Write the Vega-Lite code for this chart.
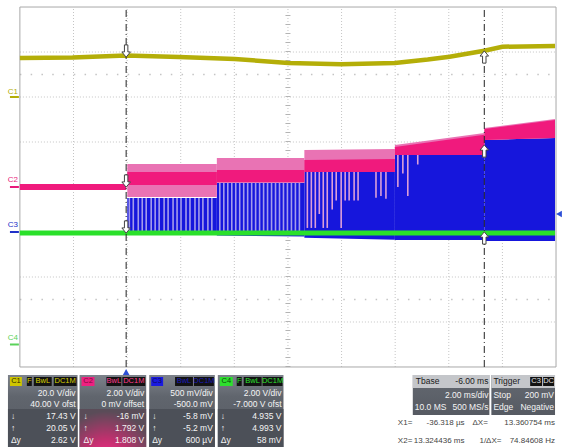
{
  "$schema": "https://vega.github.io/schema/vega-lite/v6.json",
  "width": 565,
  "height": 447,
  "autosize": {"type": "fit", "contains": "padding"},
  "padding": 0,
  "background": "#ffffff",
  "config": {"view": {"stroke": null}},
  "datasets": {
    "frame": [{"t": -4, "t2": 16, "v": -4, "v2": 4}],
    "vgrid": [
      {"t": -2, "v": -4, "v2": 4}, {"t": 0, "v": -4, "v2": 4}, {"t": 2, "v": -4, "v2": 4},
      {"t": 4, "v": -4, "v2": 4}, {"t": 6, "v": -4, "v2": 4}, {"t": 8, "v": -4, "v2": 4},
      {"t": 10, "v": -4, "v2": 4}, {"t": 12, "v": -4, "v2": 4}, {"t": 14, "v": -4, "v2": 4}
    ],
    "hgrid": [
      {"t": -4, "t2": 16, "v": -3}, {"t": -4, "t2": 16, "v": -2}, {"t": -4, "t2": 16, "v": -1},
      {"t": -4, "t2": 16, "v": 0}, {"t": -4, "t2": 16, "v": 1}, {"t": -4, "t2": 16, "v": 2},
      {"t": -4, "t2": 16, "v": 3}
    ],
    "dotrows": [{"t": -4, "t2": 16, "v": 2.5}, {"t": -4, "t2": 16, "v": -2.5}],
    "vticks": [{"t": 6, "v": -4, "v2": 4}],
    "hticks": [{"t": -4, "t2": 16, "v": 0}],
    "bands": [
      {"kind": "blue", "seg": "A", "t": 0.007, "v": -0.244, "v2": -1.05},
      {"kind": "blue", "seg": "A", "t": 3.347, "v": -0.244, "v2": -1.05},
      {"kind": "blue", "seg": "B", "t": 3.347, "v": 0.089, "v2": -1.08},
      {"kind": "blue", "seg": "B", "t": 6.612, "v": 0.089, "v2": -1.1},
      {"kind": "blue", "seg": "C", "t": 6.612, "v": 0.333, "v2": -1.13},
      {"kind": "blue", "seg": "C", "t": 9.989, "v": 0.333, "v2": -1.17},
      {"kind": "blue", "seg": "D", "t": 9.989, "v": 0.711, "v2": -1.18},
      {"kind": "blue", "seg": "D", "t": 13.328, "v": 0.711, "v2": -1.18},
      {"kind": "blue", "seg": "E", "t": 13.328, "v": 1.044, "v2": -1.2},
      {"kind": "blue", "seg": "E", "t": 15.963, "v": 1.089, "v2": -1.2},
      {"kind": "pinklight", "seg": "A", "t": 0.007, "v": 0.511, "v2": -0.222},
      {"kind": "pinklight", "seg": "A", "t": 3.347, "v": 0.511, "v2": -0.222},
      {"kind": "pinklight", "seg": "B", "t": 3.347, "v": 0.644, "v2": 0.089},
      {"kind": "pinklight", "seg": "B", "t": 6.612, "v": 0.644, "v2": 0.089},
      {"kind": "pinklight", "seg": "C", "t": 6.612, "v": 0.822, "v2": 0.333},
      {"kind": "pinklight", "seg": "C", "t": 9.989, "v": 0.844, "v2": 0.333},
      {"kind": "pinklight", "seg": "D", "t": 9.989, "v": 0.933, "v2": 0.711},
      {"kind": "pinklight", "seg": "D", "t": 13.328, "v": 1.2, "v2": 0.711},
      {"kind": "pinklight", "seg": "E", "t": 13.328, "v": 1.311, "v2": 1.044},
      {"kind": "pinklight", "seg": "E", "t": 15.963, "v": 1.511, "v2": 1.089},
      {"kind": "pink", "seg": "A", "t": 0.007, "v": 0.333, "v2": 0.044},
      {"kind": "pink", "seg": "A", "t": 3.347, "v": 0.333, "v2": 0.044},
      {"kind": "pink", "seg": "B", "t": 3.347, "v": 0.378, "v2": 0.111},
      {"kind": "pink", "seg": "B", "t": 6.612, "v": 0.378, "v2": 0.111},
      {"kind": "pink", "seg": "C", "t": 6.612, "v": 0.6, "v2": 0.333},
      {"kind": "pink", "seg": "C", "t": 9.989, "v": 0.62, "v2": 0.333},
      {"kind": "pink", "seg": "D", "t": 9.989, "v": 0.89, "v2": 0.711},
      {"kind": "pink", "seg": "D", "t": 13.328, "v": 1.16, "v2": 0.711},
      {"kind": "pink", "seg": "E", "t": 13.328, "v": 1.29, "v2": 1.044},
      {"kind": "pink", "seg": "E", "t": 15.963, "v": 1.49, "v2": 1.089}
    ],
    "pulses": [
      {"t": 0.082, "v": -1, "v2": -0.244, "kind": "gap"}, {"t": 0.23, "v": -1, "v2": -0.244, "kind": "gap"},
      {"t": 0.416, "v": -1, "v2": -0.244, "kind": "gap"}, {"t": 0.564, "v": -1, "v2": -0.244, "kind": "gap"},
      {"t": 0.712, "v": -1, "v2": -0.244, "kind": "gap"}, {"t": 0.898, "v": -1, "v2": -0.244, "kind": "gap"},
      {"t": 1.046, "v": -1, "v2": -0.244, "kind": "gap"}, {"t": 1.195, "v": -1, "v2": -0.244, "kind": "gap"},
      {"t": 1.38, "v": -1, "v2": -0.244, "kind": "gap"}, {"t": 1.529, "v": -1, "v2": -0.244, "kind": "gap"},
      {"t": 1.714, "v": -1, "v2": -0.244, "kind": "gap"}, {"t": 1.863, "v": -1, "v2": -0.244, "kind": "gap"},
      {"t": 2.011, "v": -1, "v2": -0.244, "kind": "gap"}, {"t": 2.197, "v": -1, "v2": -0.244, "kind": "gap"},
      {"t": 2.345, "v": -1, "v2": -0.244, "kind": "gap"}, {"t": 2.531, "v": -1, "v2": -0.244, "kind": "gap"},
      {"t": 2.679, "v": -1, "v2": -0.244, "kind": "gap"}, {"t": 2.827, "v": -1, "v2": -0.244, "kind": "gap"},
      {"t": 3.013, "v": -1, "v2": -0.244, "kind": "gap"}, {"t": 3.161, "v": -1, "v2": -0.244, "kind": "gap"},
      {"t": 3.458, "v": -1, "v2": 0.089, "kind": "gap"}, {"t": 3.607, "v": -1, "v2": 0.089, "kind": "gap"},
      {"t": 3.755, "v": -1, "v2": 0.089, "kind": "gap"}, {"t": 3.904, "v": -1, "v2": 0.089, "kind": "gap"},
      {"t": 4.052, "v": -1, "v2": 0.089, "kind": "gap"}, {"t": 4.2, "v": -1, "v2": 0.089, "kind": "gap"},
      {"t": 4.349, "v": -1, "v2": 0.089, "kind": "gap"}, {"t": 4.497, "v": -1, "v2": 0.089, "kind": "gap"},
      {"t": 4.646, "v": -1, "v2": 0.089, "kind": "gap"}, {"t": 4.794, "v": -1, "v2": 0.089, "kind": "gap"},
      {"t": 4.942, "v": -1, "v2": 0.089, "kind": "gap"}, {"t": 5.091, "v": -1, "v2": 0.089, "kind": "gap"},
      {"t": 5.239, "v": -1, "v2": 0.089, "kind": "gap"}, {"t": 5.388, "v": -1, "v2": 0.089, "kind": "gap"},
      {"t": 5.536, "v": -1, "v2": 0.089, "kind": "gap"}, {"t": 5.685, "v": -1, "v2": 0.089, "kind": "gap"},
      {"t": 5.833, "v": -1, "v2": 0.089, "kind": "gap"}, {"t": 5.981, "v": -1, "v2": 0.089, "kind": "gap"},
      {"t": 6.13, "v": -1, "v2": 0.089, "kind": "gap"}, {"t": 6.278, "v": -1, "v2": 0.089, "kind": "gap"},
      {"t": 6.427, "v": -1, "v2": 0.089, "kind": "gap"},
      {"t": 6.724, "v": -0.91, "v2": 0.333, "kind": "spike"}, {"t": 6.872, "v": -0.91, "v2": 0.333, "kind": "spike"},
      {"t": 7.02, "v": -0.91, "v2": 0.333, "kind": "spike"}, {"t": 7.169, "v": -0.6, "v2": 0.333, "kind": "spike"},
      {"t": 7.317, "v": -0.91, "v2": 0.333, "kind": "spike"}, {"t": 7.466, "v": -0.91, "v2": 0.333, "kind": "spike"},
      {"t": 7.651, "v": -0.5, "v2": 0.333, "kind": "spike"}, {"t": 7.8, "v": -0.3, "v2": 0.333, "kind": "spike"},
      {"t": 7.985, "v": -0.91, "v2": 0.333, "kind": "spike"}, {"t": 8.134, "v": -0.3, "v2": 0.333, "kind": "spike"},
      {"t": 8.282, "v": -0.3, "v2": 0.333, "kind": "spike"}, {"t": 8.468, "v": -0.3, "v2": 0.333, "kind": "spike"},
      {"t": 8.616, "v": -0.3, "v2": 0.333, "kind": "spike"}, {"t": 9.284, "v": -0.24, "v2": 0.333, "kind": "spike"},
      {"t": 9.469, "v": -0.2, "v2": 0.333, "kind": "spike"}, {"t": 9.655, "v": -0.26, "v2": 0.333, "kind": "spike"},
      {"t": 10.1, "v": 0.0, "v2": 0.711, "kind": "spike"}, {"t": 10.286, "v": 0.3, "v2": 0.711, "kind": "spike"},
      {"t": 10.471, "v": -0.2, "v2": 0.711, "kind": "spike"}, {"t": 10.842, "v": 0.5, "v2": 0.711, "kind": "spike"}
    ],
    "c2pre": [{"t": -4, "v": 0.0}, {"t": -0.036, "v": 0.0}],
    "c1": [
      {"t": -4, "v": 2.867}, {"t": -2.033, "v": 2.878}, {"t": -0.036, "v": 2.922},
      {"t": 1.937, "v": 2.889}, {"t": 4.015, "v": 2.844}, {"t": 6.019, "v": 2.756},
      {"t": 7.985, "v": 2.73}, {"t": 9.989, "v": 2.756}, {"t": 11.213, "v": 2.833},
      {"t": 12.03, "v": 2.896}, {"t": 13.324, "v": 3.029}, {"t": 13.996, "v": 3.118},
      {"t": 15.963, "v": 3.133}
    ],
    "c4": [{"t": -4, "v": -1.02}, {"t": 15.963, "v": -1.02}],
    "cursors": [{"t": -0.036, "v": -4, "v2": 4}, {"t": 13.324, "v": -4, "v2": 4}],
    "arrows": [
      {"t": -0.036, "v": 3.022, "dir": "down"}, {"t": -0.036, "v": 0.133, "dir": "down"},
      {"t": -0.036, "v": -0.889, "dir": "down"}, {"t": 13.324, "v": 2.889, "dir": "up"},
      {"t": 13.324, "v": 0.8, "dir": "up"}, {"t": 13.324, "v": -1.133, "dir": "up"}
    ],
    "markers": [{"t": -0.036, "v": -4.111, "kind": "trigger time"}, {"t": 16.111, "v": -0.6, "kind": "trigger level"}],
    "chan": [
      {"ch": "C1", "t": -4.26, "v": 2.111, "u": -4.371, "u2": -4.037, "lv": 2},
      {"ch": "C2", "t": -4.26, "v": 0.156, "u": -4.371, "u2": -4.037, "lv": 0},
      {"ch": "C3", "t": -4.26, "v": -0.844, "u": -4.371, "u2": -4.037, "lv": -1},
      {"ch": "C4", "t": -4.26, "v": -3.356, "u": -4.371, "u2": -4.037, "lv": -3.5}
    ],
    "panels": [
      {"t": -4.445, "t2": -1.848, "v": -4.178, "v2": -5.778},
      {"t": -1.774, "t2": 0.712, "v": -4.178, "v2": -5.778},
      {"t": 0.824, "t2": 3.273, "v": -4.178, "v2": -5.778},
      {"t": 3.384, "t2": 5.833, "v": -4.178, "v2": -5.778},
      {"t": 10.657, "t2": 13.514, "v": -4.178, "v2": -5.067},
      {"t": 13.588, "t2": 15.963, "v": -4.178, "v2": -5.067}
    ],
    "boxes": [
      {"part": "lower", "t": -4.445, "t2": -1.848, "v": -4.933, "v2": -5.778},
      {"part": "lower", "t": 0.824, "t2": 3.273, "v": -4.933, "v2": -5.778},
      {"part": "lower", "t": 3.384, "t2": 5.833, "v": -4.933, "v2": -5.778},
      {"part": "header", "t": 10.657, "t2": 13.514, "v": -4.178, "v2": -4.467},
      {"part": "header", "t": 13.588, "t2": 15.963, "v": -4.178, "v2": -4.467},
      {"part": "C1 tag", "t": -4.371, "t2": -3.926, "v": -4.222, "v2": -4.422},
      {"part": "flag", "t": -3.74, "t2": -3.555, "v": -4.222, "v2": -4.422},
      {"part": "flag", "t": -3.481, "t2": -2.813, "v": -4.222, "v2": -4.422},
      {"part": "flag", "t": -2.738, "t2": -1.885, "v": -4.222, "v2": -4.422},
      {"part": "C2 tag", "t": -1.7, "t2": -1.217, "v": -4.222, "v2": -4.422},
      {"part": "flag", "t": -0.772, "t2": -0.215, "v": -4.222, "v2": -4.422},
      {"part": "flag", "t": -0.178, "t2": 0.675, "v": -4.222, "v2": -4.422},
      {"part": "C3 tag", "t": 0.898, "t2": 1.343, "v": -4.222, "v2": -4.422},
      {"part": "flag", "t": 1.788, "t2": 2.456, "v": -4.222, "v2": -4.422},
      {"part": "flag", "t": 2.494, "t2": 3.236, "v": -4.222, "v2": -4.422},
      {"part": "C4 tag", "t": 3.458, "t2": 3.941, "v": -4.222, "v2": -4.422},
      {"part": "flag", "t": 4.089, "t2": 4.275, "v": -4.222, "v2": -4.422},
      {"part": "flag", "t": 4.349, "t2": 5.017, "v": -4.222, "v2": -4.422},
      {"part": "flag", "t": 5.054, "t2": 5.796, "v": -4.222, "v2": -4.422},
      {"part": "flag", "t": 15.035, "t2": 15.48, "v": -4.222, "v2": -4.422},
      {"part": "flag", "t": 15.518, "t2": 15.926, "v": -4.222, "v2": -4.422}
    ],
    "glow": [{"t": -1.774, "t2": 0.712, "v": -4.933, "v2": -5.778}],
    "texts": [
      {"t": -4.148, "v": -4.322, "text": "C1", "col": "tag", "part": "C1 tag"},
      {"t": -3.647, "v": -4.322, "text": "F", "col": "tag", "part": "C1 flag"},
      {"t": -3.147, "v": -4.322, "text": "BwL", "col": "tag", "part": "C1 flag"},
      {"t": -2.311, "v": -4.322, "text": "DC1M", "col": "tag", "part": "C1 flag"},
      {"t": -1.458, "v": -4.322, "text": "C2", "col": "tag", "part": "C2 tag"},
      {"t": -0.493, "v": -4.322, "text": "BwL", "col": "tag", "part": "C2 flag"},
      {"t": 0.248, "v": -4.322, "text": "DC1M", "col": "tag", "part": "C2 flag"},
      {"t": 1.12, "v": -4.322, "text": "C3", "col": "tag", "part": "C3 tag"},
      {"t": 2.122, "v": -4.322, "text": "BwL", "col": "tag", "part": "C3 flag"},
      {"t": 2.865, "v": -4.322, "text": "DC1M", "col": "tag", "part": "C3 flag"},
      {"t": 3.7, "v": -4.322, "text": "C4", "col": "tag", "part": "C4 tag"},
      {"t": 4.182, "v": -4.322, "text": "F", "col": "tag", "part": "C4 flag"},
      {"t": 4.683, "v": -4.322, "text": "BwL", "col": "tag", "part": "C4 flag"},
      {"t": 5.425, "v": -4.322, "text": "DC1M", "col": "tag", "part": "C4 flag"},
      {"t": 15.257, "v": -4.322, "text": "C3", "col": "tag", "part": "trig flag"},
      {"t": 15.722, "v": -4.322, "text": "DC", "col": "tag", "part": "trig flag"},

      {"t": -1.922, "v": -4.578, "text": "20.0 V/div", "col": "value", "part": "reading"},
      {"t": -1.922, "v": -4.822, "text": "40.00 V ofst", "col": "value", "part": "reading"},
      {"t": -1.922, "v": -5.089, "text": "17.43 V", "col": "value", "part": "reading"},
      {"t": -1.922, "v": -5.356, "text": "20.05 V", "col": "value", "part": "reading"},
      {"t": -1.922, "v": -5.622, "text": "2.62 V", "col": "value", "part": "reading"},
      {"t": 0.638, "v": -4.578, "text": "2.00 V/div", "col": "value", "part": "reading"},
      {"t": 0.638, "v": -4.822, "text": "0 mV offset", "col": "value", "part": "reading"},
      {"t": 0.638, "v": -5.089, "text": "-16 mV", "col": "value", "part": "reading"},
      {"t": 0.638, "v": -5.356, "text": "1.792 V", "col": "value", "part": "reading"},
      {"t": 0.638, "v": -5.622, "text": "1.808 V", "col": "value", "part": "reading"},
      {"t": 3.198, "v": -4.578, "text": "500 mV/div", "col": "value", "part": "reading"},
      {"t": 3.198, "v": -4.822, "text": "-500.0 mV", "col": "value", "part": "reading"},
      {"t": 3.198, "v": -5.089, "text": "-5.8 mV", "col": "value", "part": "reading"},
      {"t": 3.198, "v": -5.356, "text": "-5.2 mV", "col": "value", "part": "reading"},
      {"t": 3.198, "v": -5.622, "text": "600 µV", "col": "value", "part": "reading"},
      {"t": 5.759, "v": -4.578, "text": "2.00 V/div", "col": "value", "part": "reading"},
      {"t": 5.759, "v": -4.822, "text": "-7.000 V ofst", "col": "value", "part": "reading"},
      {"t": 5.759, "v": -5.089, "text": "4.935 V", "col": "value", "part": "reading"},
      {"t": 5.759, "v": -5.356, "text": "4.993 V", "col": "value", "part": "reading"},
      {"t": 5.759, "v": -5.622, "text": "58 mV", "col": "value", "part": "reading"},

      {"t": -4.334, "v": -5.089, "text": "↓", "col": "label", "part": "reading"},
      {"t": -4.334, "v": -5.356, "text": "↑", "col": "label", "part": "reading"},
      {"t": -4.334, "v": -5.622, "text": "Δy", "col": "label", "part": "reading"},
      {"t": -1.625, "v": -5.089, "text": "↓", "col": "label", "part": "reading"},
      {"t": -1.625, "v": -5.356, "text": "↑", "col": "label", "part": "reading"},
      {"t": -1.625, "v": -5.622, "text": "Δy", "col": "label", "part": "reading"},
      {"t": 0.935, "v": -5.089, "text": "↓", "col": "label", "part": "reading"},
      {"t": 0.935, "v": -5.356, "text": "↑", "col": "label", "part": "reading"},
      {"t": 0.935, "v": -5.622, "text": "Δy", "col": "label", "part": "reading"},
      {"t": 3.495, "v": -5.089, "text": "↓", "col": "label", "part": "reading"},
      {"t": 3.495, "v": -5.356, "text": "↑", "col": "label", "part": "reading"},
      {"t": 3.495, "v": -5.622, "text": "Δy", "col": "label", "part": "reading"},

      {"t": 10.768, "v": -4.322, "text": "Tbase", "col": "label", "part": "header"},
      {"t": 13.477, "v": -4.322, "text": "-6.00 ms", "col": "value", "part": "header"},
      {"t": 13.477, "v": -4.622, "text": "2.00 ms/div", "col": "value", "part": "reading"},
      {"t": 10.731, "v": -4.889, "text": "10.0 MS", "col": "label", "part": "reading"},
      {"t": 13.477, "v": -4.889, "text": "500 MS/s", "col": "value", "part": "reading"},
      {"t": 13.663, "v": -4.322, "text": "Trigger", "col": "label", "part": "header"},
      {"t": 13.663, "v": -4.622, "text": "Stop", "col": "label", "part": "reading"},
      {"t": 15.926, "v": -4.622, "text": "200 mV", "col": "value", "part": "reading"},
      {"t": 13.663, "v": -4.889, "text": "Edge", "col": "label", "part": "reading"},
      {"t": 15.926, "v": -4.889, "text": "Negative", "col": "value", "part": "reading"},

      {"t": 10.1, "v": -5.244, "text": "X1=", "col": "label", "part": "cursor"},
      {"t": 12.586, "v": -5.244, "text": "-36.318 µs", "col": "value", "part": "cursor"},
      {"t": 12.883, "v": -5.244, "text": "ΔX=", "col": "label", "part": "cursor"},
      {"t": 15.963, "v": -5.244, "text": "13.360754 ms", "col": "value", "part": "cursor"},
      {"t": 10.1, "v": -5.644, "text": "X2=", "col": "label", "part": "cursor"},
      {"t": 12.586, "v": -5.644, "text": "13.324436 ms", "col": "value", "part": "cursor"},
      {"t": 13.143, "v": -5.644, "text": "1/ΔX=", "col": "label", "part": "cursor"},
      {"t": 15.963, "v": -5.644, "text": "74.84608 Hz", "col": "value", "part": "cursor"}
    ]
  },
  "encoding": {
    "x": {"field": "t", "type": "quantitative", "scale": {"domain": [-4.742, 16.223], "nice": false, "zero": false}, "axis": null},
    "y": {"field": "v", "type": "quantitative", "scale": {"domain": [-5.778, 4.156], "nice": false, "zero": false}, "axis": null}
  },
  "layer": [
    {
      "data": {"name": "vgrid"},
      "mark": {"type": "rule", "color": "#c4c4c4", "strokeWidth": 1, "strokeDash": [1, 2]},
      "encoding": {"y2": {"field": "v2"}}
    },
    {
      "data": {"name": "hgrid"},
      "mark": {"type": "rule", "color": "#c4c4c4", "strokeWidth": 1, "strokeDash": [1, 2]},
      "encoding": {"x2": {"field": "t2"}}
    },
    {
      "data": {"name": "dotrows"},
      "mark": {"type": "rule", "color": "#c4c4c4", "strokeWidth": 1.5, "strokeDash": [1.5, 9.28]},
      "encoding": {"x2": {"field": "t2"}}
    },
    {
      "data": {"name": "vticks"},
      "mark": {"type": "rule", "color": "#b4b4b4", "strokeWidth": 5, "strokeDash": [1, 8]},
      "encoding": {"y2": {"field": "v2"}}
    },
    {
      "data": {"name": "hticks"},
      "mark": {"type": "rule", "color": "#b4b4b4", "strokeWidth": 5, "strokeDash": [1, 9.78]},
      "encoding": {"x2": {"field": "t2"}}
    },
    {
      "data": {"name": "frame"},
      "mark": {"type": "rect", "fill": null, "stroke": "#a8a8a8", "strokeWidth": 1},
      "encoding": {"x2": {"field": "t2"}, "y2": {"field": "v2"}}
    },
    {
      "data": {"name": "bands"},
      "transform": [{"filter": "datum.kind == 'blue'"}],
      "mark": {"type": "area", "color": "#1616dc", "opacity": 1},
      "encoding": {"y2": {"field": "v2"}, "detail": {"field": "seg"}}
    },
    {
      "data": {"name": "pulses"},
      "mark": {"type": "rule", "strokeWidth": 1.6},
      "encoding": {
        "y2": {"field": "v2"},
        "color": {"field": "kind", "type": "nominal", "scale": {"domain": ["gap", "spike"], "range": ["#a49ceb", "#dc9fd8"]}, "legend": null}
      }
    },
    {
      "data": {"name": "bands"},
      "transform": [{"filter": "datum.kind == 'pinklight'"}],
      "mark": {"type": "area", "color": "#e973b4", "opacity": 1},
      "encoding": {"y2": {"field": "v2"}, "detail": {"field": "seg"}}
    },
    {
      "data": {"name": "bands"},
      "transform": [{"filter": "datum.kind == 'pink'"}],
      "mark": {"type": "area", "color": "#f01a7d", "opacity": 1},
      "encoding": {"y2": {"field": "v2"}, "detail": {"field": "seg"}}
    },
    {
      "data": {"name": "c2pre"},
      "mark": {"type": "line", "color": "#f01a7d", "strokeWidth": 6},
      "encoding": {}
    },
    {
      "data": {"name": "c1"},
      "mark": {"type": "line", "color": "#b4ae08", "strokeWidth": 4.5},
      "encoding": {}
    },
    {
      "data": {"name": "c4"},
      "mark": {"type": "line", "color": "#2ae02a", "strokeWidth": 5},
      "encoding": {}
    },
    {
      "data": {"name": "cursors"},
      "mark": {"type": "rule", "color": "#222222", "strokeWidth": 1, "strokeDash": [7, 3, 1, 3]},
      "encoding": {"y2": {"field": "v2"}}
    },
    {
      "data": {"name": "arrows"},
      "mark": {"type": "point", "filled": true, "fill": "#ffffff", "stroke": "#444444", "strokeWidth": 1, "opacity": 1, "size": 150},
      "encoding": {
        "shape": {"field": "dir", "type": "nominal", "legend": null, "scale": {"domain": ["down", "up"], "range": [
          "M-0.28,-1L0.28,-1L0.28,0.15L0.7,0.15L0,1L-0.7,0.15L-0.28,0.15Z",
          "M-0.28,1L0.28,1L0.28,-0.15L0.7,-0.15L0,-1L-0.7,-0.15L-0.28,-0.15Z"
        ]}}
      }
    },
    {
      "data": {"name": "markers"},
      "mark": {"type": "point", "filled": true, "color": "#2d4fd6", "opacity": 1, "size": 45},
      "encoding": {
        "shape": {"field": "kind", "type": "nominal", "legend": null, "scale": {"domain": ["trigger time", "trigger level"], "range": ["triangle-up", "triangle-left"]}}
      }
    },
    {
      "data": {"name": "chan"},
      "mark": {"type": "text", "fontSize": 8, "font": "Liberation Sans", "align": "center", "baseline": "middle"},
      "encoding": {
        "text": {"field": "ch"},
        "color": {"field": "ch", "type": "nominal", "legend": null, "scale": {"domain": ["C1", "C2", "C3", "C4"], "range": ["#b4ae08", "#e8197a", "#2030c8", "#5ad25a"]}}
      }
    },
    {
      "data": {"name": "chan"},
      "mark": {"type": "rule", "strokeWidth": 2},
      "encoding": {
        "x": {"field": "u", "type": "quantitative"},
        "x2": {"field": "u2"},
        "y": {"field": "lv", "type": "quantitative"},
        "color": {"field": "ch", "type": "nominal", "legend": null, "scale": {"domain": ["C1", "C2", "C3", "C4"], "range": ["#b4ae08", "#e8197a", "#2030c8", "#5ad25a"]}}
      }
    },
    {
      "data": {"name": "panels"},
      "mark": {"type": "rect", "color": {"gradient": "linear", "x1": 0, "y1": 0, "x2": 0, "y2": 1, "stops": [
        {"offset": 0, "color": "#7d828b"}, {"offset": 0.3, "color": "#60656d"}, {"offset": 1, "color": "#565a62"}
      ]}},
      "encoding": {"x2": {"field": "t2"}, "y2": {"field": "v2"}}
    },
    {
      "data": {"name": "boxes"},
      "mark": {"type": "rect"},
      "encoding": {
        "x2": {"field": "t2"},
        "y2": {"field": "v2"},
        "color": {"field": "part", "type": "nominal", "legend": null, "scale": {
          "domain": ["lower", "header", "C1 tag", "C2 tag", "C3 tag", "C4 tag", "flag"],
          "range": ["#4c5058", "#c4c6ca", "#cfc600", "#ee2080", "#1a1ae0", "#2ee02e", "#121212"]
        }}
      }
    },
    {
      "data": {"name": "glow"},
      "mark": {"type": "rect", "color": {"gradient": "radial", "x1": 0.4, "y1": 1, "x2": 0.4, "y2": 1, "r1": 0, "r2": 0.75, "stops": [
        {"offset": 0, "color": "#ff2a8c"}, {"offset": 0.45, "color": "#c0306e"}, {"offset": 1, "color": "#5a4c58"}
      ]}},
      "encoding": {"x2": {"field": "t2"}, "y2": {"field": "v2"}}
    },
    {
      "data": {"name": "texts"},
      "transform": [{"filter": "datum.col == 'label' && datum.part != 'cursor'"}],
      "mark": {"type": "text", "align": "left", "baseline": "middle", "fontSize": 8.5, "font": "Liberation Sans"},
      "encoding": {
        "text": {"field": "text"},
        "color": {"field": "part", "type": "nominal", "legend": null, "scale": {
          "domain": ["reading", "header"],
          "range": ["#f4f4f4", "#1a1a1a"]
        }}
      }
    },
    {
      "data": {"name": "texts"},
      "transform": [{"filter": "datum.col == 'value' && datum.part != 'cursor'"}],
      "mark": {"type": "text", "align": "right", "baseline": "middle", "fontSize": 8.5, "font": "Liberation Sans"},
      "encoding": {
        "text": {"field": "text"},
        "color": {"field": "part", "type": "nominal", "legend": null, "scale": {
          "domain": ["reading", "header"],
          "range": ["#f4f4f4", "#1a1a1a"]
        }}
      }
    },
    {
      "data": {"name": "texts"},
      "transform": [{"filter": "datum.col == 'label' && datum.part == 'cursor'"}],
      "mark": {"type": "text", "align": "left", "baseline": "middle", "fontSize": 8, "font": "Liberation Sans", "color": "#444444"},
      "encoding": {"text": {"field": "text"}}
    },
    {
      "data": {"name": "texts"},
      "transform": [{"filter": "datum.col == 'value' && datum.part == 'cursor'"}],
      "mark": {"type": "text", "align": "right", "baseline": "middle", "fontSize": 8, "font": "Liberation Sans", "color": "#444444"},
      "encoding": {"text": {"field": "text"}}
    },
    {
      "data": {"name": "texts"},
      "transform": [{"filter": "datum.col == 'tag'"}],
      "mark": {"type": "text", "align": "center", "baseline": "middle", "fontSize": 7.5, "font": "Liberation Sans"},
      "encoding": {
        "text": {"field": "text"},
        "color": {"field": "part", "type": "nominal", "legend": null, "scale": {
          "domain": ["C1 tag", "C2 tag", "C3 tag", "C4 tag", "C1 flag", "C2 flag", "C3 flag", "C4 flag", "trig flag"],
          "range": ["#2e2c00", "#7a0c3e", "#0c0c60", "#0b4a0b", "#d8d000", "#ff3a8c", "#1c1cb8", "#2ee02e", "#e0e0e0"]
        }}
      }
    }
  ],
  "resolve": {"scale": {"color": "independent", "shape": "independent"}}
}
